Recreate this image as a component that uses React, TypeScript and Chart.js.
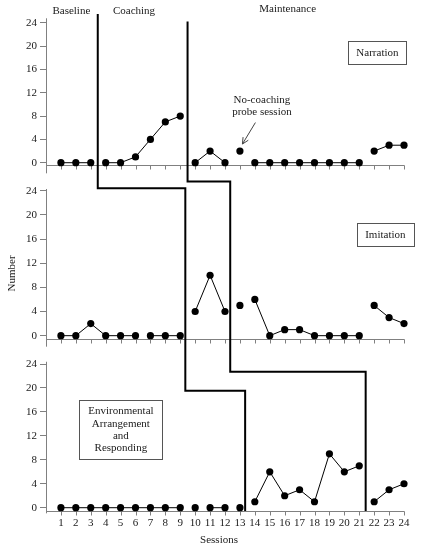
import React, { useEffect, useRef } from 'react';
import { Chart, registerables } from 'chart.js';
Chart.register(...registerables);

// ---- data ----
const sessions = [1, 2, 3, 4, 5, 6, 7, 8, 9, 10, 11, 12, 13, 14, 15, 16, 17, 18, 19, 20, 21, 22, 23, 24];
const narration = [0, 0, 0, 0, 0, 1, 4, 7, 8, 0, 2, 0, 2, 0, 0, 0, 0, 0, 0, 0, 0, 2, 3, 3];
const imitation = [0, 0, 2, 0, 0, 0, 0, 0, 0, 4, 10, 4, 5, 6, 0, 1, 1, 0, 0, 0, 0, 5, 3, 2];
const environmental = [0, 0, 0, 0, 0, 0, 0, 0, 0, 0, 0, 0, 0, 1, 6, 2, 3, 1, 9, 6, 7, 1, 3, 4];
// sessions after which the connecting line is broken
const narrationBreaks = [3, 9, 12, 13, 21];
const imitationBreaks = [6, 9, 12, 13, 21];
const environmentalBreaks = [9, 10, 12, 13, 21];
const yTicks = [0, 4, 8, 12, 16, 20, 24];
const xTicks = sessions;
const phaseLabels = ['Baseline', 'Coaching', 'Maintenance'];
const panelNames = [['Narration'], ['Imitation'], ['Environmental', 'Arrangement', 'and', 'Responding']];
// phase-change lines: [session, panel, value]
const phaseLineA = [[3.47, 0, 25.5], [3.47, 1, 24.4], [9.34, 1, 24.4], [9.34, 2, 19.54], [13.35, 2, 19.54], [13.35, 2, -0.55]];
const phaseLineB = [[9.49, 0, 24.2], [9.49, 1, 25.5], [12.35, 1, 25.5], [12.35, 2, 22.7], [21.43, 2, 22.7], [21.43, 2, -0.55]];
const probeNote = ['No-coaching', 'probe session'];
const probeSession = 13;

// ---- layout / style ----
const FONT = "'Liberation Serif', 'Times New Roman', serif";
const TXT = '#1a1a1a';
const AXIS = '#808080';
const panelIds = ['y1', 'y2', 'y3'];
const axisLineAt = [-0.34, -0.55, -0.55];
const axisSpan = [[-1.82, 24.76], [-1.82, 24.28], [-0.94, 24.38]];
const phaseLabelPos = [[1.7, 26.0], [5.9, 26.0], [16.2, 26.35]];
// box: [session center, value center, width, height, panel]
const boxPos = [[22.22, 18.86, 58, 23, 0], [22.75, 16.7, 57, 23, 1], [5.02, 12.98, 83, 59, 2]];

function yScale(min: number, max: number, weight: number, sw: number) {
  return {
    type: 'linear',
    position: 'left',
    stack: 'panels',
    stackWeight: sw,
    weight,
    min,
    max,
    afterBuildTicks: (s: any) => {
      s.ticks = yTicks.map((v) => ({ value: v }));
    },
    afterFit: (s: any) => {
      s.width = 46;
    },
    grid: { display: true, drawOnChartArea: false, drawTicks: true, tickLength: 6, color: AXIS, lineWidth: 1 },
    border: { display: false },
    ticks: { padding: 3, color: TXT, font: { family: FONT, size: 11 }, autoSkip: false },
  };
}

const overlay = {
  id: 'overlay',
  beforeDatasetsDraw(chart: any) {
    const ctx = chart.ctx;
    const xs = chart.scales.x;
    ctx.save();
    ctx.strokeStyle = AXIS;
    ctx.lineWidth = 1;
    panelIds.forEach((id, i) => {
      const ys = chart.scales[id];
      const x0 = Math.round(xs.getPixelForValue(0)) + 0.5;
      const x1 = Math.round(xs.getPixelForValue(24)) + 0.5;
      const ya = Math.round(ys.getPixelForValue(axisLineAt[i])) + 0.5;
      ctx.beginPath();
      ctx.moveTo(x0, ys.getPixelForValue(axisSpan[i][1]));
      ctx.lineTo(x0, ys.getPixelForValue(axisSpan[i][0]));
      ctx.moveTo(x0, ya);
      ctx.lineTo(x1, ya);
      xTicks.forEach((t) => {
        const xt = Math.round(xs.getPixelForValue(t)) + 0.5;
        ctx.moveTo(xt, ya);
        ctx.lineTo(xt, ya + 4);
      });
      ctx.stroke();
    });
    ctx.restore();
  },
  afterDraw(chart: any) {
    const ctx = chart.ctx;
    const xs = chart.scales.x;
    const py = (p: number, v: number) => chart.scales[panelIds[p]].getPixelForValue(v);
    ctx.save();
    // phase lines
    ctx.strokeStyle = '#000';
    ctx.lineWidth = 2;
    ctx.lineJoin = 'miter';
    [phaseLineA, phaseLineB].forEach((ln) => {
      ctx.beginPath();
      ln.forEach(([s, p, v], k) => {
        const x = xs.getPixelForValue(s);
        const y = py(p, v);
        if (k === 0) ctx.moveTo(x, y);
        else ctx.lineTo(x, y);
      });
      ctx.stroke();
    });
    // phase labels
    ctx.fillStyle = TXT;
    ctx.font = `11px ${FONT}`;
    ctx.textAlign = 'center';
    ctx.textBaseline = 'middle';
    phaseLabels.forEach((t, i) => {
      ctx.fillText(t, xs.getPixelForValue(phaseLabelPos[i][0]), py(0, phaseLabelPos[i][1]));
    });
    // panel name boxes
    ctx.strokeStyle = '#555';
    ctx.lineWidth = 1;
    boxPos.forEach(([s, v, w, h, p], i) => {
      const cx = xs.getPixelForValue(s);
      const cy = py(p, v);
      const l = Math.round(cx - w / 2) + 0.5;
      const t = Math.round(cy - h / 2) + 0.5;
      ctx.fillStyle = '#fff';
      ctx.fillRect(l, t, w, h);
      ctx.strokeRect(l, t, w, h);
      ctx.fillStyle = TXT;
      const lines = panelNames[i];
      const lh = 12.3;
      lines.forEach((txt, k) => {
        ctx.fillText(txt, cx, cy + (k - (lines.length - 1) / 2) * lh);
      });
    });
    // probe note + arrow
    const px = xs.getPixelForValue(probeSession);
    const pyv = py(0, narration[probeSession - 1]);
    ctx.fillText(probeNote[0], px + 22, pyv - 51);
    ctx.fillText(probeNote[1], px + 22, pyv - 39);
    const tip = [px + 2.5, pyv - 7];
    const tail = [px + 15.5, pyv - 28.5];
    ctx.strokeStyle = '#444';
    ctx.lineWidth = 1;
    ctx.beginPath();
    ctx.moveTo(tail[0], tail[1]);
    ctx.lineTo(tip[0], tip[1]);
    const ang = Math.atan2(tip[1] - tail[1], tip[0] - tail[0]);
    const al = 7;
    ctx.moveTo(tip[0] - al * Math.cos(ang - 0.45), tip[1] - al * Math.sin(ang - 0.45));
    ctx.lineTo(tip[0], tip[1]);
    ctx.lineTo(tip[0] - al * Math.cos(ang + 0.45), tip[1] - al * Math.sin(ang + 0.45));
    ctx.stroke();
    // axis titles
    ctx.fillStyle = TXT;
    ctx.fillText('Sessions', xs.getPixelForValue(11.6), chart.scales.x.top + 26);
    ctx.save();
    ctx.translate(12, py(1, 10.3));
    ctx.rotate(-Math.PI / 2);
    ctx.fillText('Number', 0, 0);
    ctx.restore();
    ctx.restore();
  },
};

function mk(vals: number[], breaks: number[], yId: string) {
  return {
    type: 'line',
    data: sessions.map((s, i) => ({ x: s, y: vals[i] })),
    xAxisID: 'x',
    yAxisID: yId,
    borderColor: '#000',
    borderWidth: 1,
    pointRadius: 3.6,
    pointHoverRadius: 3.6,
    pointBackgroundColor: '#000',
    pointBorderWidth: 0,
    tension: 0,
    clip: false,
    segment: {
      borderColor: (c: any) => (breaks.includes(c.p0.parsed.x) ? 'rgba(0,0,0,0)' : '#000'),
    },
  };
}

export default function App() {
  const ref = useRef<HTMLCanvasElement>(null);
  useEffect(() => {
    const canvas = ref.current!;
    const chart = new Chart(canvas, {
      type: 'line',
      data: {
        datasets: [
          mk(narration, narrationBreaks, 'y1'),
          mk(imitation, imitationBreaks, 'y2'),
          mk(environmental, environmentalBreaks, 'y3'),
        ] as any,
      },
      options: {
        responsive: false,
        animation: false,
        events: [],
        layout: { padding: { top: 10, right: 17, left: 0, bottom: 0 } },
        plugins: { legend: { display: false }, tooltip: { enabled: false }, title: { display: false } },
        scales: {
          x: {
            type: 'linear',
            position: 'bottom',
            min: 0,
            max: 24,
            afterBuildTicks: (s: any) => {
              s.ticks = xTicks.map((v) => ({ value: v }));
            },
            afterFit: (s: any) => {
              s.height = 36;
            },
            grid: { display: false, drawTicks: false },
            border: { display: false },
            ticks: { padding: 3, color: TXT, font: { family: FONT, size: 11 }, autoSkip: false, maxRotation: 0 },
          },
          y1: yScale(-2.62, 26.18, 3, 168),
          y2: yScale(-2.37, 26.1, 2, 172),
          y3: yScale(-1.05, 26.34, 1, 164),
        } as any,
      },
      plugins: [overlay],
    });
    return () => chart.destroy();
  }, []);
  return (
    <div style={{ position: 'absolute', left: 0, top: 0, width: 421, height: 550, background: '#fff' }}>
      <canvas ref={ref} width={421} height={550} style={{ display: 'block' }} />
    </div>
  );
}
